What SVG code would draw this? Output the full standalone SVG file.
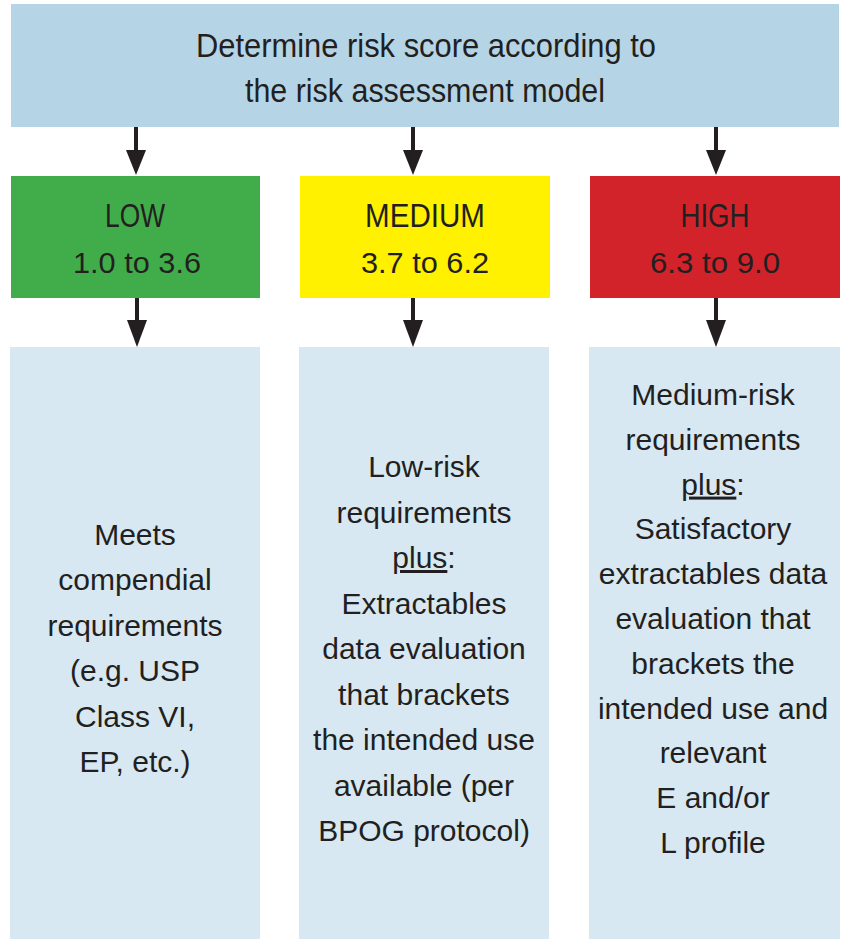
<svg xmlns="http://www.w3.org/2000/svg" width="843" height="939" viewBox="0 0 843 939">
<style>
.t{font-family:"Liberation Sans",Arial,sans-serif;font-size:30px;fill:#231f20;text-anchor:middle}
.c{font-family:"Liberation Sans",Arial,sans-serif;font-size:33px;fill:#231f20;text-anchor:middle}
.n{font-family:"Liberation Sans",Arial,sans-serif;font-size:29px;fill:#231f20;text-anchor:middle}
.sh{stroke:#231f20;stroke-width:4}
.hd{fill:#231f20}
</style>
<rect width="843" height="939" fill="#ffffff"/>
<g id="top">
<rect x="11" y="4" width="828" height="123" fill="#b5d5e6"/>
<text class="c" x="426" y="57" textLength="460" lengthAdjust="spacingAndGlyphs">Determine risk score according to</text>
<text class="c" x="425" y="102" textLength="360" lengthAdjust="spacingAndGlyphs">the risk assessment model</text>
</g>
<g id="low">
<rect x="11" y="176" width="249" height="122" fill="#41ad4a"/>
<text class="c" x="135" y="227" textLength="60" lengthAdjust="spacingAndGlyphs">LOW</text>
<text class="n" x="137" y="273" textLength="128" lengthAdjust="spacingAndGlyphs">1.0 to 3.6</text>
</g>
<g id="medium">
<rect x="300" y="176" width="250" height="122" fill="#fff100"/>
<text class="c" x="425" y="227" textLength="120" lengthAdjust="spacingAndGlyphs">MEDIUM</text>
<text class="n" x="425" y="273" textLength="128" lengthAdjust="spacingAndGlyphs">3.7 to 6.2</text>
</g>
<g id="high">
<rect x="590" y="176" width="250" height="122" fill="#d2232a"/>
<text class="c" x="715" y="227" textLength="69" lengthAdjust="spacingAndGlyphs">HIGH</text>
<text class="n" x="715" y="273" textLength="130" lengthAdjust="spacingAndGlyphs">6.3 to 9.0</text>
</g>
<g id="low-req">
<rect x="10" y="347" width="250" height="592" fill="#d7e8f2"/>
<text class="t" x="135" y="545">Meets</text>
<text class="t" x="135" y="590.4">compendial</text>
<text class="t" x="135" y="635.8">requirements</text>
<text class="t" x="135" y="681.2">(e.g. USP</text>
<text class="t" x="135" y="726.6">Class VI,</text>
<text class="t" x="135" y="772">EP, etc.)</text>
</g>
<g id="medium-req">
<rect x="299" y="347" width="250" height="592" fill="#d7e8f2"/>
<text class="t" x="424" y="477">Low-risk</text>
<text class="t" x="424" y="522.5">requirements</text>
<text class="t" x="424" y="568"><tspan text-decoration="underline">plus</tspan>:</text>
<text class="t" x="424" y="613.5">Extractables</text>
<text class="t" x="424" y="659">data evaluation</text>
<text class="t" x="424" y="704.5">that brackets</text>
<text class="t" x="424" y="750">the intended use</text>
<text class="t" x="424" y="795.5">available (per</text>
<text class="t" x="424" y="841">BPOG protocol)</text>
</g>
<g id="high-req">
<rect x="589" y="347" width="251" height="592" fill="#d7e8f2"/>
<text class="t" x="713" y="405">Medium-risk</text>
<text class="t" x="713" y="449.8">requirements</text>
<text class="t" x="713" y="494.6"><tspan text-decoration="underline">plus</tspan>:</text>
<text class="t" x="713" y="539.4">Satisfactory</text>
<text class="t" x="713" y="584.2">extractables data</text>
<text class="t" x="713" y="629">evaluation that</text>
<text class="t" x="713" y="673.8">brackets the</text>
<text class="t" x="713" y="718.6">intended use and</text>
<text class="t" x="713" y="763.4">relevant</text>
<text class="t" x="713" y="808.2">E and/or</text>
<text class="t" x="713" y="853">L profile</text>
</g>
<g id="connectors">
<line class="sh" x1="136" y1="127" x2="136" y2="155"/>
<polygon class="hd" points="126,150 146,150 136,175"/>
<line class="sh" x1="413" y1="127" x2="413" y2="155"/>
<polygon class="hd" points="403,150 423,150 413,175"/>
<line class="sh" x1="716" y1="127" x2="716" y2="155"/>
<polygon class="hd" points="706,150 726,150 716,175"/>
<line class="sh" x1="137" y1="298" x2="137" y2="325"/>
<polygon class="hd" points="127,320 147,320 137,347"/>
<line class="sh" x1="413" y1="298" x2="413" y2="325"/>
<polygon class="hd" points="403,320 423,320 413,347"/>
<line class="sh" x1="716" y1="298" x2="716" y2="325"/>
<polygon class="hd" points="706,320 726,320 716,347"/>
</g>
</svg>
